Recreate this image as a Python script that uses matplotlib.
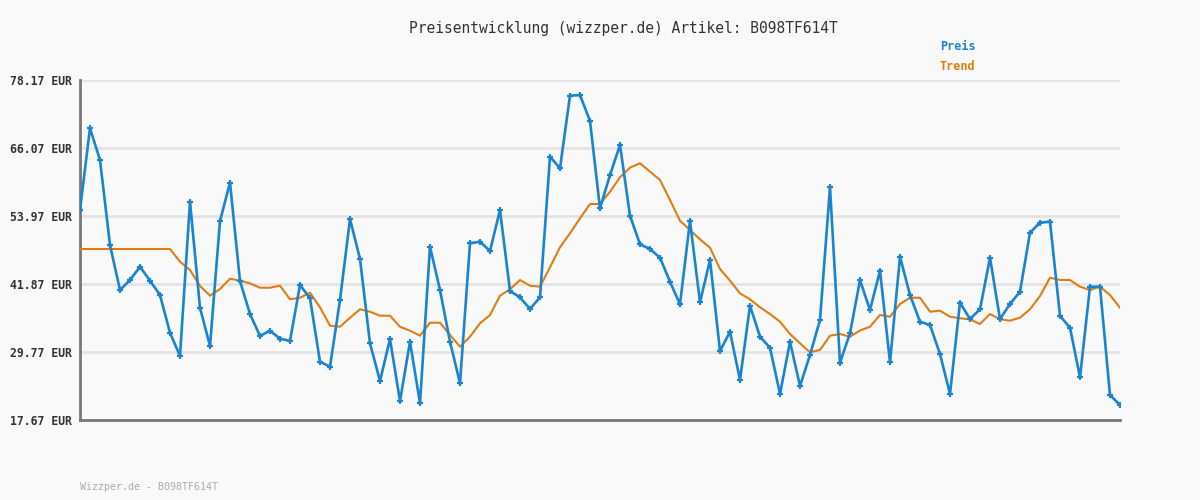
#!/usr/bin/env python3

import matplotlib as mpl
import matplotlib.pyplot as plt
import numpy as np

mpl.rcParams['font.family'] = ['DejaVu Sans Mono']

# price points (EUR)
preis = [55.04, 69.58, 63.93, 48.81, 40.80, 42.58, 44.95, 42.46, 39.91, 33.20,
         29.06, 56.51, 37.65, 30.84, 53.08, 59.90, 42.40, 36.53, 32.62, 33.56,
         32.14, 31.73, 41.69, 39.33, 28.04, 27.15, 39.02, 53.44, 46.32, 31.32,
         24.61, 32.08, 21.05, 31.60, 20.64, 48.51, 40.80, 31.60, 24.20, 49.11,
         49.40, 47.74, 55.04, 40.62, 39.50, 37.42, 39.50, 64.52, 62.46, 75.38,
         75.50, 70.87, 55.34, 61.27, 66.60, 54.02, 48.93, 48.10, 46.55, 42.28,
         38.26, 53.08, 38.61, 46.14, 29.95, 33.38, 24.79, 38.01, 32.49, 30.53,
         22.30, 31.60, 23.72, 29.24, 35.46, 59.08, 27.87, 33.10, 42.53, 37.24,
         44.24, 27.94, 46.73, 39.91, 35.16, 34.57, 29.41, 22.30, 38.54, 35.64,
         37.37, 46.55, 35.64, 38.31, 40.50, 51.00, 52.78, 52.96, 36.18, 34.09,
         25.27, 41.39, 41.39, 22.12, 20.34]

trend = [48.10, 48.10, 48.10, 48.10, 48.10, 48.10, 48.10, 48.10, 48.10, 48.10,
         45.84, 44.36, 41.51, 39.79, 40.98, 42.81, 42.46, 41.99, 41.21, 41.21,
         41.57, 39.15, 39.43, 40.32, 37.72, 34.45, 34.27, 35.87, 37.37, 36.94,
         36.23, 36.23, 34.27, 33.56, 32.67, 34.98, 34.98, 32.80, 30.71, 32.49,
         34.88, 36.35, 39.79, 40.93, 42.58, 41.57, 41.39, 44.84, 48.40, 50.89,
         53.56, 56.10, 56.10, 58.29, 60.86, 62.57, 63.35, 61.86, 60.38, 56.82,
         53.13, 51.48, 49.82, 48.33, 44.54, 42.46, 40.21, 39.15, 37.72, 36.53,
         35.16, 32.97, 31.32, 29.72, 30.13, 32.67, 32.97, 32.49, 33.60, 34.27,
         36.35, 36.05, 38.31, 39.43, 39.43, 36.94, 37.12, 36.05, 35.77, 35.59,
         34.75, 36.53, 35.59, 35.34, 35.87, 37.37, 39.73, 42.99, 42.58, 42.58,
         41.39, 40.80, 41.39, 39.91, 37.65]

ytick_vals = [17.67, 29.77, 41.87, 53.97, 66.07, 78.17]
ytick_labels = ['%.2f EUR' % v for v in ytick_vals]

artikel = 'B098TF614T'

bg = '#f9f9f9'
blue = '#1a84d0'
orange = '#e07d10'

fig = plt.figure(figsize=(12, 5), dpi=100, facecolor=bg)
ax = fig.add_axes([80/1200, 80/500, 1040/1200, 340/500], facecolor=bg)

xs = np.arange(len(preis))
ax.plot(xs, trend, '-', color=orange, lw=1.5, zorder=3)
ax.plot(xs, preis, '-', color=blue, lw=1.9, marker='+', ms=4.5, mew=1.6, zorder=4)

ax.set_xlim(0, len(preis)-1)
ax.set_ylim(ytick_vals[0], ytick_vals[-1])
ax.set_yticks(ytick_vals)
ax.set_yticklabels(ytick_labels, fontsize=8.3, fontweight='bold', color='#333333')
ax.set_xticks([])
ax.tick_params(axis='y', length=0, pad=5.5)
ax.grid(axis='y', color='#e2e2e2', lw=1.8, zorder=0)
ax.set_axisbelow(True)

for s in ['top', 'right']:
    ax.spines[s].set_visible(False)
for s in ['left', 'bottom']:
    ax.spines[s].set_color('#777777')
    ax.spines[s].set_linewidth(2)

fig.text(623/1200, 1-28/500, 'Preisentwicklung (wizzper.de) Artikel: ' + artikel,
         ha='center', va='center', fontsize=10.5, color='#333333')
fig.text(940/1200, 1-47/500, 'Preis', ha='left', va='center', fontsize=8.5,
         fontweight='bold', color=blue)
fig.text(940/1200, 1-67/500, 'Trend', ha='left', va='center', fontsize=8.5,
         fontweight='bold', color=orange)
fig.text(80/1200, 1-487/500, 'Wizzper.de - ' + artikel, ha='left', va='center',
         fontsize=7.2, color='#aaaaaa')

fig.savefig('out.png', dpi=100, facecolor=bg)
